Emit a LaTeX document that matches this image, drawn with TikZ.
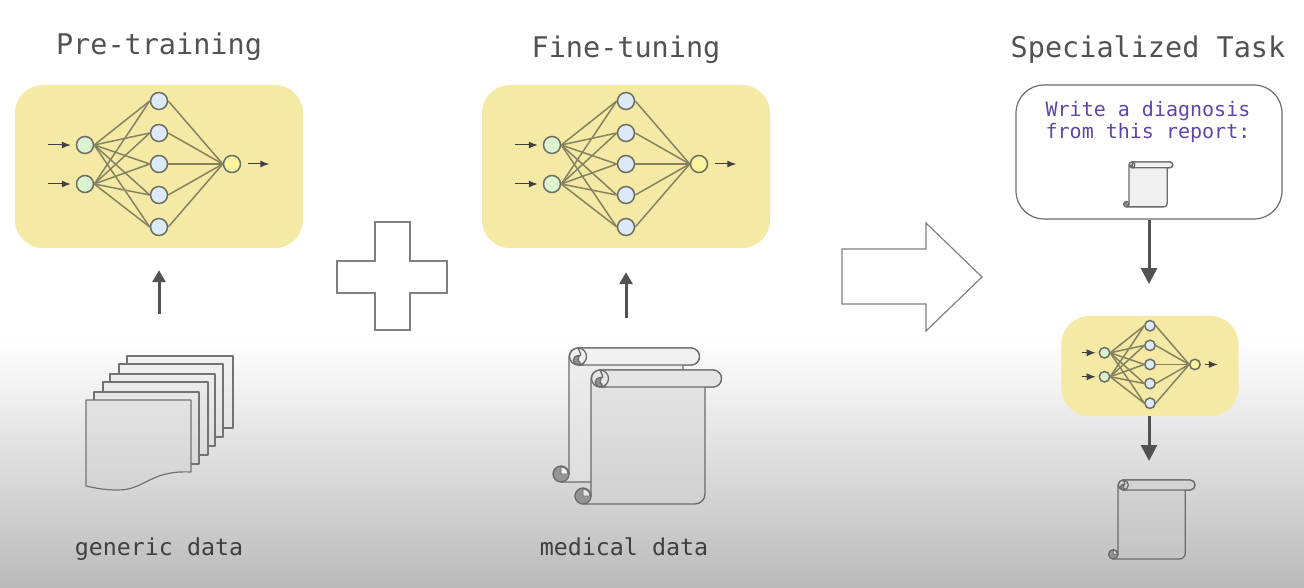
\documentclass[tikz,border=0pt]{standalone}
\usepackage{fontspec}
\setmonofont{DejaVu Sans Mono}
\usepackage{xcolor}
\usepackage{tikz}
\usetikzlibrary{arrows.meta, positioning, calc}

\definecolor{netyellow}{HTML}{F5E9A6}
\definecolor{netedge}{HTML}{85825F}
\definecolor{ringedge}{HTML}{6E6E62}
\definecolor{promptpurple}{HTML}{5F46A6}
\definecolor{inputgreen}{HTML}{DCF3CF}
\definecolor{hiddenblue}{HTML}{DCE9F7}
\definecolor{outputyellow}{HTML}{FCF5A0}

\tikzset{
  neuron/.style={circle, draw=ringedge, line width=1.5pt, minimum size=17pt, inner sep=0pt},
  netbox/.style={fill=netyellow, rounded corners=28pt, minimum width=288pt, minimum height=163pt, inner sep=0pt},
  title/.style={font=\ttfamily\fontsize{28.5}{30}\selectfont, text=black!68},
  caption/.style={font=\ttfamily\fontsize{23.3}{26}\selectfont, text=black!75, anchor=base},
  prompt/.style={font=\ttfamily\fontsize{20}{21.5}\selectfont, text=promptpurple, align=center},
  outline/.style={draw=black!50, line width=1.2pt, fill=white, line join=miter},
  flow/.style={draw=black!68, line width=3pt, -{Triangle[length=16pt,width=16pt]}},
  smallflow/.style={draw=black!68, line width=3pt, -{Triangle[length=12pt,width=13pt]}},
  tick/.style={draw=black!75, line width=1pt, -{Latex[length=9pt,width=7pt]}},
  sheet/.style={draw=black!55, line width=1.2pt, line join=round},
  scrolledge/.style={draw=black!58, line width=1.3pt, line join=round}
}

% network on a yellow card: prefix, centre x, centre y, scale
\newcommand{\neuralnet}[4]{
  \begin{scope}[shift={(#2,#3)}, scale=#4, transform shape]
    \node[netbox] (#1) at (0,0) {};
    \node[neuron, fill=inputgreen] (#1i1) at (-74,-21.5) {};
    \node[neuron, fill=inputgreen] (#1i2) at (-74,17.5) {};
    \foreach \n/\y in {1/-65.5, 2/-33.5, 3/-2.5, 4/28.5, 5/60.5}
      \node[neuron, fill=hiddenblue] (#1h\n) at (0,\y) {};
    \node[neuron, fill=outputyellow] (#1o) at (73,-2.5) {};
    \foreach \n in {1,...,5} {
      \draw[netedge, line width=1.5pt] (#1i1.east) -- (#1h\n.west);
      \draw[netedge, line width=1.5pt] (#1i2.east) -- (#1h\n.west);
      \draw[netedge, line width=1.5pt] (#1h\n.east) -- (#1o.west);
    }
    \draw[tick] ([xshift=-28pt]#1i1.west) -- ([xshift=-5pt]#1i1.west);
    \draw[tick] ([xshift=-28pt]#1i2.west) -- ([xshift=-5pt]#1i2.west);
    \draw[tick] ([xshift=7pt]#1o.east) -- ([xshift=28pt]#1o.east);
  \end{scope}
}

% scroll: left x, top y, scale, top shade, bottom shade
\newcommand{\scrollicon}[5]{
  \begin{scope}[shift={(#1,#2)}, scale=#3]
    \path[scrolledge, top color=#4, bottom color=#5]
      (0,126) -- (0,9) arc[start angle=180, end angle=270, radius=9] -- (122,0)
      arc[start angle=-90, end angle=90, radius=8.5] -- (114,17) -- (114,124)
      arc[start angle=0, end angle=90, radius=10] -- (-8,134) -- cycle;
    \path[scrolledge, fill=black!42] (-8,126) circle[radius=8];
    \path[draw=black!58, line width=0.8pt, fill=#4] (-8,126) -- (-8,119) arc[start angle=-90, end angle=0, radius=7] -- cycle;
    \path[scrolledge, fill=#4]
      (9,0) -- (122,0) arc[start angle=-90, end angle=90, radius=8.5] -- (9,17)
      arc[start angle=90, end angle=270, radius=8.5] -- cycle;
    \path[scrolledge, fill=black!42]
      (9,17) arc[start angle=90, end angle=270, radius=4.75] -- (14,7.5) -- (14,17) -- cycle;
    \path[scrolledge, fill=#4]
      (9,0) arc[start angle=-90, end angle=90, radius=8.5] arc[start angle=90, end angle=-90, radius=2] -- (10,8)
      .. controls (14,8) and (10,3) .. (9,0) -- cycle;
  \end{scope}
}

\begin{document}
\begin{tikzpicture}[x=1pt, y=-1pt]
  \useasboundingbox (0,0) rectangle (1304,588);

  % Backdrop
  \fill[white] (0,0) rectangle (1304,588);
  \shade[top color=white, bottom color=black!27] (0,340) rectangle (1304,588);

  % Headings
  \node[title] (pretitle) at (159,47) {Pre-training};
  \node[title] (finetitle) at (626,50) {Fine-tuning};
  \node[title] (tasktitle) at (1148,50) {Specialized Task};

  % Networks
  \neuralnet{prenet}{159}{166.5}{1}
  \neuralnet{finenet}{626}{166.5}{1}
  \neuralnet{tasknet}{1150}{366}{0.615}

  % Plus and big arrow
  \draw[outline] (375,222) -- (410,222) -- (410,261) -- (447,261) -- (447,293) -- (410,293)
    -- (410,330) -- (375,330) -- (375,293) -- (337,293) -- (337,261) -- (375,261) -- cycle;
  \draw[outline] (842,249) -- (926,249) -- (926,223) -- (982,277) -- (926,331) -- (926,304)
    -- (842,304) -- cycle;

  % Stack of generic pages
  \foreach \lx/\ty/\rx/\by/\tone in {127/356/233/428/95, 119/364/223/437/94, 110/374/215/446/93,
                                     103/382/208/455/92, 94/392/199/464/91}
    \path[sheet, top color=black!\the\numexpr100-\tone\relax, bottom color=black!\the\numexpr106-\tone\relax]
      (\lx,\ty) rectangle (\rx,\by);
  \path[sheet, top color=black!11, bottom color=black!17] (86,400) -- (191,400) -- (191,472)
    .. controls (150,470) and (145,490) .. (118,490) .. controls (104,490) and (95,488) .. (86,486) -- cycle;

  % Medical scrolls
  \scrollicon{569}{348}{1}{black!6}{black!13}
  \scrollicon{591}{370}{1}{black!10}{black!18}

  % Prompt card
  \node[draw=black!58, line width=1.2pt, fill=white, rounded corners=28pt, minimum width=266pt,
        minimum height=134pt, inner sep=0pt] (reportbox) at (1149,152) {};
  \node[prompt] (prompt) at (1148,122) {Write a diagnosis\\from this report:};
  \scrollicon{1129}{162}{0.335}{black!6}{black!6}

  % Diagnosis scroll
  \scrollicon{1118}{480}{0.59}{black!17}{black!23}

  % Captions
  \node[caption] (genericlabel) at (159,555) {generic data};
  \node[caption] (medicallabel) at (624,555) {medical data};

  % Arrows
  \coordinate (pretail) at (159,314);
  \coordinate (finetail) at (626,318);
  \coordinate (reporthead) at (1149,284);
  \coordinate (outhead) at (1149,461);
  \draw[smallflow] (pretail) -- ([yshift=-22pt]prenet.south);
  \draw[smallflow] (finetail) -- ([yshift=-24pt]finenet.south);
  \draw[flow] (reportbox.south) -- (reporthead);
  \draw[flow] (tasknet.south -| outhead) -- (outhead);
\end{tikzpicture}
\end{document}
